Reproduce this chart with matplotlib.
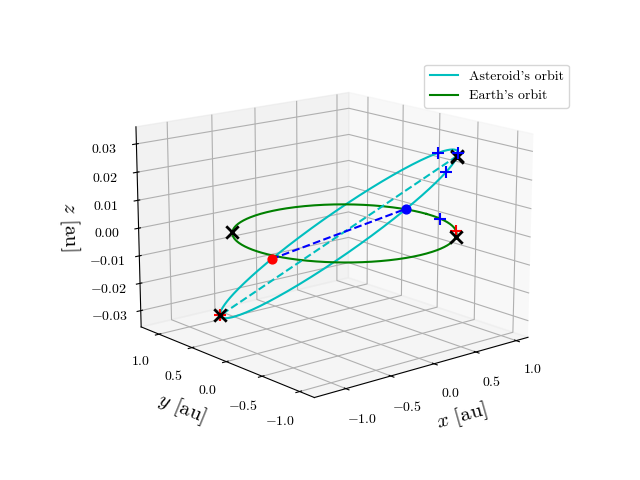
import numpy as np
import matplotlib
matplotlib.use("Agg")
import matplotlib.pyplot as plt

plt.rcParams["font.family"] = "serif"
plt.rcParams["font.serif"] = ["cmr10"]
plt.rcParams["mathtext.fontset"] = "cm"
plt.rcParams["axes.formatter.use_mathtext"] = True

# asteroid orbital elements
ast_a = 1.06
ast_e = 0.057
ast_incl_deg = 1.9
ast_node_deg = 195.0   # longitude of ascending node
ast_peri_deg = 126.0   # argument of perihelion

# earth orbit
earth_radius = 1.0

# marker positions
earth_x_angles = [140.0, -50.0]     # ecliptic longitude, deg
earth_red_plus = [-38.0]
earth_blue_plus = [-12.0]
ast_x_anom = [0.0, 3.0, 180.0]     # true anomaly, deg
ast_red_plus_anom = [180.0]
ast_blue_plus_anom = [-6.0, 22.0, -40.0]

# axis ranges
x_range = (-1.34, 1.15)
y_range = (-1.19, 1.28)
z_range = (-0.036, 0.036)


def ast_pos(nu_deg):
    nu = np.radians(nu_deg)
    r = ast_a * (1 - ast_e ** 2) / (1 + ast_e * np.cos(nu))
    u = nu + np.radians(ast_peri_deg)
    O = np.radians(ast_node_deg)
    i = np.radians(ast_incl_deg)
    x = r * (np.cos(O) * np.cos(u) - np.sin(O) * np.sin(u) * np.cos(i))
    y = r * (np.sin(O) * np.cos(u) + np.cos(O) * np.sin(u) * np.cos(i))
    z = r * np.sin(u) * np.sin(i)
    return x, y, z


def earth_pos(theta_deg):
    th = np.radians(theta_deg)
    return earth_radius * np.cos(th), earth_radius * np.sin(th), 0 * th


fig = plt.figure(figsize=(6.4, 4.8))
ax = fig.add_subplot(111, projection="3d")
ax.set_position([0.125, 0.12, 0.775, 0.77])
ax.set_box_aspect(None, zoom=1.17)

t = np.linspace(0, 360, 400)
ax.plot(*ast_pos(t), color="c", label="Asteroid's orbit")
ax.plot(*earth_pos(t), color="g", label="Earth's orbit")

# apsidal line and line of nodes
ap = ast_pos(np.array([0.0, 180.0]))
ax.plot(ap[0], ap[1], ap[2], "c--")
nd = ast_pos(np.array([-ast_peri_deg, 180.0 - ast_peri_deg]))
ax.plot(nd[0], nd[1], [0, 0], "b--")
ax.scatter(nd[0][0], nd[1][0], 0, color="r", s=40, depthshade=False)
ax.scatter(nd[0][1], nd[1][1], 0, color="b", s=40, depthshade=False)

ax.scatter(*ast_pos(np.array(ast_red_plus_anom)), color="r", marker="+", s=80, depthshade=False)
ax.scatter(*earth_pos(np.array(earth_red_plus)), color="r", marker="+", s=80, depthshade=False)
ax.scatter(*ast_pos(np.array(ast_blue_plus_anom)), color="b", marker="+", s=80, depthshade=False)
ax.scatter(*earth_pos(np.array(earth_blue_plus)), color="b", marker="+", s=80, depthshade=False)
ax.scatter(*earth_pos(np.array(earth_x_angles)), color="k", marker="x", s=80, linewidths=2, depthshade=False)
ax.scatter(*ast_pos(np.array(ast_x_anom)), color="k", marker="x", s=80, linewidths=2, depthshade=False)

ax.set_xlim(*x_range)
ax.set_ylim(*y_range)
ax.set_zlim(*z_range)
ax.set_xticks([-1.0, -0.5, 0.0, 0.5, 1.0])
ax.set_yticks([-1.0, -0.5, 0.0, 0.5, 1.0])
ax.set_zticks([-0.03, -0.02, -0.01, 0.0, 0.01, 0.02, 0.03])
ax.set_xlabel("$x$ [au]", fontsize=15)
ax.set_ylabel("$y$ [au]", fontsize=15)
ax.set_zlabel("$z$ [au]", fontsize=15)
ax.view_init(elev=15, azim=-130)
ax.legend(loc="upper right", bbox_to_anchor=(0.9, 0.88), bbox_transform=fig.transFigure)

fig.savefig("out.png", dpi=100)
